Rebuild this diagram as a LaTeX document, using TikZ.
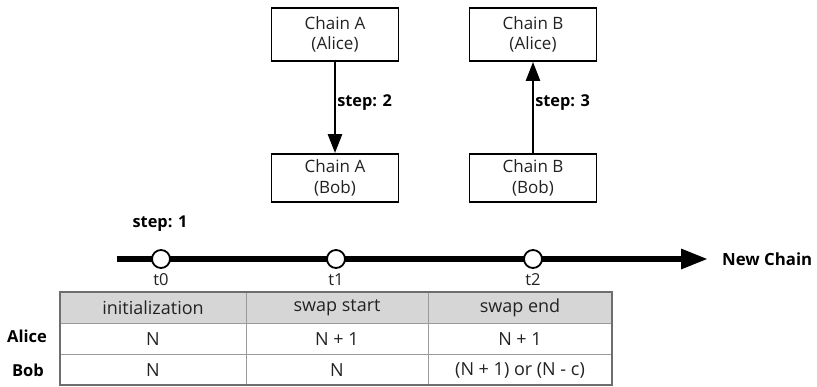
\documentclass[tikz,border=0pt]{standalone}
\usepackage{fontspec}
\setmainfont{Open Sans}
\usetikzlibrary{arrows.meta}
\definecolor{txt}{HTML}{222222}
\definecolor{tblborder}{HTML}{6E6E6E}
\definecolor{tblinner}{HTML}{9A9A9A}
\definecolor{tblhead}{HTML}{D6D6D6}
\tikzset{
  chainbox/.style={draw=black, line width=1.8pt, fill=white, minimum width=127pt, align=center, text=txt, inner sep=0pt, font=\fontsize{17}{20.5}\selectfont},
  varrow/.style={line width=2.6pt, -{Triangle[length=19pt,width=14pt]}},
  steplbl/.style={font=\fontsize{16.3}{18}\bfseries\selectfont, text=black, inner sep=1pt},
  tline/.style={line width=6pt, -{Triangle[length=27pt,width=19pt]}},
  tdot/.style={circle, draw=black, line width=1.8pt, fill=white, minimum size=18pt, inner sep=0pt},
  tlbl/.style={font=\fontsize{16.5}{18}\selectfont, text=txt, inner sep=0pt},
  cell/.style={font=\fontsize{18}{20}\selectfont, text=txt, inner sep=0pt},
  rowlbl/.style={font=\fontsize{16.5}{18}\bfseries\selectfont, text=black, inner sep=0pt}
}
\begin{document}
\begin{tikzpicture}[x=1pt,y=-1pt]
\useasboundingbox (0,0) rectangle (817,387);
% chain boxes
\node[chainbox, minimum height=53pt] (aA) at (335,34.5) {Chain A\\(Alice)};
\node[chainbox, minimum height=48pt] (aB) at (335,178) {Chain A\\(Bob)};
\node[chainbox, minimum height=53pt] (bA) at (533,34.5) {Chain B\\(Alice)};
\node[chainbox, minimum height=48pt] (bB) at (533,178) {Chain B\\(Bob)};
\draw[varrow] (aA.south) -- node[steplbl, anchor=west, pos=0.45] {step: 2} (aB.north);
\draw[varrow] (bB.north) -- node[steplbl, anchor=west, pos=0.55] {step: 3} (bA.south);
% timeline
\coordinate (ls) at (117,259);
\coordinate (le) at (708,259);
\draw[tline] (ls) -- (le);
\node[tdot] (t0) at (161,259) {};
\node[tdot] (t1) at (336,259) {};
\node[tdot] (t2) at (533,259) {};
\node[tlbl] (lt0) at (161,280) {t0};
\node[tlbl] (lt1) at (336,280) {t1};
\node[tlbl] (lt2) at (533,280) {t2};
\node[steplbl] (s1) at (160,224) {step: 1};
\node[steplbl, font=\fontsize{16.8}{18}\bfseries\selectfont, anchor=west] (nc) at (721,259) {New Chain};
% table
\fill[tblhead] (60,292) rectangle (612,324);
\draw[tblinner, line width=1pt] (60,324) -- (612,324) (60,355) -- (612,355)
  (246,292) -- (246,385) (428,292) -- (428,385);
\draw[tblborder, line width=2pt] (60,292) rectangle (612,385);
\node[cell] (h1) at (153,308) {initialization};
\node[cell] (h2) at (337,308) {swap start};
\node[cell] (h3) at (520,308) {swap end};
\node[cell] (a1) at (153,339.5) {N};
\node[cell] (a2) at (337,339.5) {N + 1};
\node[cell] (a3) at (520,339.5) {N + 1};
\node[cell] (b1) at (153,370) {N};
\node[cell] (b2) at (337,370) {N};
\node[cell] (b3) at (520,370) {(N + 1) or (N - c)};
\node[rowlbl] (ra) at (27,336) {Alice};
\node[rowlbl] (rb) at (28,370) {Bob};
\end{tikzpicture}
\end{document}
